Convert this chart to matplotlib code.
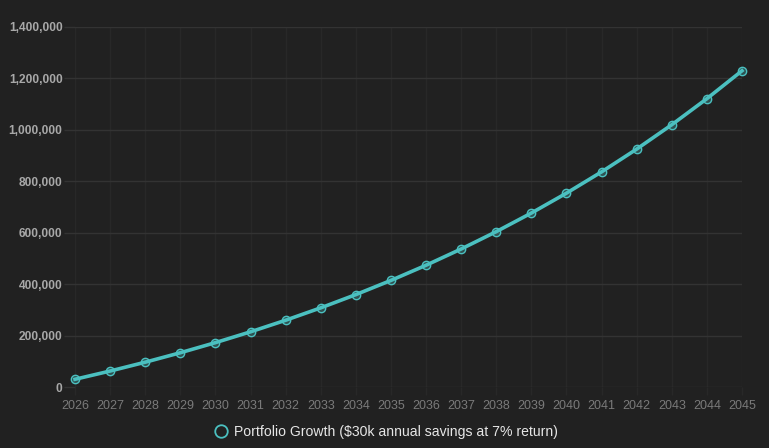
import matplotlib
matplotlib.use("Agg")
import matplotlib.pyplot as plt
from matplotlib.ticker import FuncFormatter, MultipleLocator

years = [str(y) for y in range(2026, 2046)]
portfolio = [30000, 62100, 96447, 133198, 172522, 214599, 259621, 307794,
             359340, 414494, 473508, 536654, 604219, 676514, 753870, 836641,
             925206, 1019970, 1121368, 1229863]
series_label = "Portfolio Growth ($30k annual savings at 7% return)"

bg = "#212121"
teal = "#4bc0c0"
grid_c = "#333333"

plt.rcParams['font.family'] = ['Liberation Sans', 'DejaVu Sans']

fig = plt.figure(figsize=(7.69, 4.48), dpi=100, facecolor=bg)
ax = fig.add_axes([75/769, 1-387/448, (742-75)/769, (387-27)/448], facecolor=bg)

x = list(range(len(years)))
ax.plot(x, portfolio, color=teal, lw=2.6, marker='o', ms=6,
        mfc=(75/255, 192/255, 192/255, 0.3), mec=teal, mew=1.0,
        label=series_label, zorder=3, clip_on=False)

ax.set_xlim(0, len(years)-1)
ax.set_ylim(0, 1400000)
ax.yaxis.set_major_locator(MultipleLocator(200000))
ax.yaxis.set_major_formatter(FuncFormatter(lambda v, p: f"{int(v):,}"))
ax.set_xticks(x)
ax.set_xticklabels(years)

ax.grid(True, axis='y', color=grid_c, lw=1)
ax.grid(True, axis='x', color="#282828", lw=1)
ax.set_axisbelow(True)
for s in ax.spines.values():
    s.set_visible(False)

ax.tick_params(axis='y', colors=grid_c, length=8, width=1, pad=1,
               labelcolor="#a8a8a8", labelsize=8.6)
ax.tick_params(axis='x', colors="#282828", length=6, width=1, pad=3,
               labelcolor="#7a7a7a", labelsize=9)
for lbl in ax.get_yticklabels():
    lbl.set_fontweight('bold')

leg = fig.legend(handles=[plt.Line2D([], [], ls='none', marker='o', ms=9,
                                     mfc='none', mec=teal, mew=1.3)],
                 labels=[series_label], loc='center',
                 bbox_to_anchor=(386/769, 1-432/448), frameon=False,
                 fontsize=10.1, handletextpad=0.4, handlelength=1.0,
                 labelcolor="#e6e6e6")

fig.savefig("out.png", dpi=100, facecolor=bg)
